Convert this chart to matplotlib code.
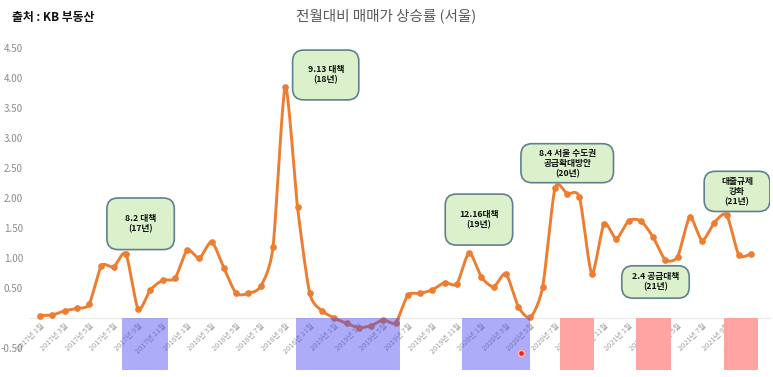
import numpy as np
import matplotlib
matplotlib.use("Agg")
import matplotlib.pyplot as plt
from matplotlib.patches import FancyBboxPatch

plt.rcParams['font.family'] = ['Noto Sans CJK KR', 'DejaVu Sans']

# monthly change vs previous month, Seoul, 2017-01 .. 2021-11
rate = [0.04, 0.05, 0.12, 0.16, 0.23, 0.87, 0.85, 1.07, 0.15, 0.47,
        0.63, 0.66, 1.13, 1.00, 1.27, 0.83, 0.41, 0.41, 0.53, 1.18,
        3.85, 1.85, 0.41, 0.12, 0.00, -0.09, -0.16, -0.13, -0.03, -0.08,
        0.38, 0.41, 0.47, 0.59, 0.57, 1.09, 0.68, 0.52, 0.74, 0.19,
        0.01, 0.52, 2.16, 2.07, 2.01, 0.74, 1.57, 1.32, 1.62, 1.62,
        1.35, 0.97, 1.02, 1.68, 1.29, 1.59, 1.72, 1.05, 1.07]
months = np.arange(len(rate))
tick_labels = ["%d년 %d월" % (2017 + m // 12, m % 12 + 1) for m in months[::2]]

# highlighted periods (month index start, end)
blue_spans = [(6.7, 10.4), (20.9, 29.4), (34.4, 40.0)]
red_spans = [(42.4, 45.2), (48.6, 51.5), (55.8, 58.6)]
span_depth = -0.87

# policy call-outs: text, centre (month, value), width (months), height
notes = [("8.2 대책\n(17년)", 8.2, 1.57, 5.5, 0.86),
         ("9.13 대책\n(18년)", 23.3, 4.05, 5.4, 0.83),
         ("12.16대책\n(19년)", 35.8, 1.64, 5.5, 0.85),
         ("8.4 서울 수도권\n공급확대방안\n(20년)", 43.0, 2.58, 7.55, 0.65),
         ("2.4 공급대책\n(21년)", 50.2, 0.60, 5.5, 0.54),
         ("대출규제\n강화\n(21년)", 56.85, 2.11, 5.36, 0.67)]


def smooth(x, y, n=16, k=0.7):
    # cardinal spline through the points (like excel smoothed line)
    x = np.asarray(x, float)
    y = np.asarray(y, float)
    t = np.linspace(0, 1, n, endpoint=False)[:, None]
    h00 = 2 * t ** 3 - 3 * t ** 2 + 1
    h10 = t ** 3 - 2 * t ** 2 + t
    h01 = -2 * t ** 3 + 3 * t ** 2
    h11 = t ** 3 - t ** 2
    res = []
    for p in (x, y):
        pp = np.concatenate([[p[0]], p, [p[-1]]])
        m = k * 0.5 * (pp[2:] - pp[:-2])
        c = h00 * p[:-1] + h10 * m[:-1] + h01 * p[1:] + h11 * m[1:]
        res.append(np.append(c.T.ravel(), p[-1]))
    return res[0], res[1]


fig = plt.figure(figsize=(7.73, 3.77), dpi=100)
ax = fig.add_axes([30 / 773, 1 - 372 / 377, 740 / 773, 332 / 377])
ax.set_xlim(-0.82, 59.54)
ax.set_ylim(-0.9, 4.633)

sx, sy = smooth(months, rate)
ax.plot(sx, sy, color="#ED7D31", lw=2.1, zorder=3, solid_capstyle="round")
ax.plot(months, rate, "o", color="#ED7D31", ms=3.8, zorder=3)

for a, b in blue_spans:
    ax.fill_between([a, b], span_depth, 0, color="#4848F0", alpha=0.45, lw=0, zorder=4)
for a, b in red_spans:
    ax.fill_between([a, b], span_depth, 0, color="#FFA3A3", lw=0, zorder=4)

# cursor dot from the screen capture
ax.plot([39.2], [-0.58], "o", color="#E8202A", ms=4.5, mec="#FFB0B0", mew=1.2, zorder=5)

asp = (12.26 / 60)
for txt, cx, cy, w, h in notes:
    box = FancyBboxPatch((cx - w / 2, cy - h / 2), w, h,
                         boxstyle="round,pad=0,rounding_size=0.9",
                         mutation_aspect=asp, fc="#DAF1CB", ec="#61808F",
                         lw=1.2, zorder=6)
    ax.add_patch(box)
    ax.text(cx, cy, txt, ha="center", va="center", fontsize=6.3,
            fontweight="bold", color="#111111", linespacing=1.15, zorder=7)

for s in ax.spines.values():
    s.set_visible(False)
ax.spines['bottom'].set_visible(True)
ax.spines['bottom'].set_position(('data', 0))
ax.spines['bottom'].set_color("#EBEBEB")

ax.set_xticks(months[::2])
ax.set_xticklabels(tick_labels, rotation=45, ha="right", rotation_mode="anchor",
                   fontsize=5.3, color="#A0A0A0")
yt = [4.5, 4.0, 3.5, 3.0, 2.5, 2.0, 1.5, 1.0, 0.5, -0.5]
ax.set_yticks(yt)
ax.set_yticklabels(["%.2f" % v for v in yt], fontsize=7, color="#8C8C8C")
ax.tick_params(length=0, axis="y", pad=5)
ax.tick_params(length=0, axis="x", pad=3)

fig.text(0.5, 1 - 16 / 377, "전월대비 매매가 상승률 (서울)", ha="center", va="center",
         fontsize=10.5, color="#595959")
fig.text(12 / 773, 1 - 17 / 377, "출처 : KB 부동산", ha="left", va="center",
         fontsize=8.5, fontweight="bold", color="#111111")

fig.savefig("out.png", dpi=100)
